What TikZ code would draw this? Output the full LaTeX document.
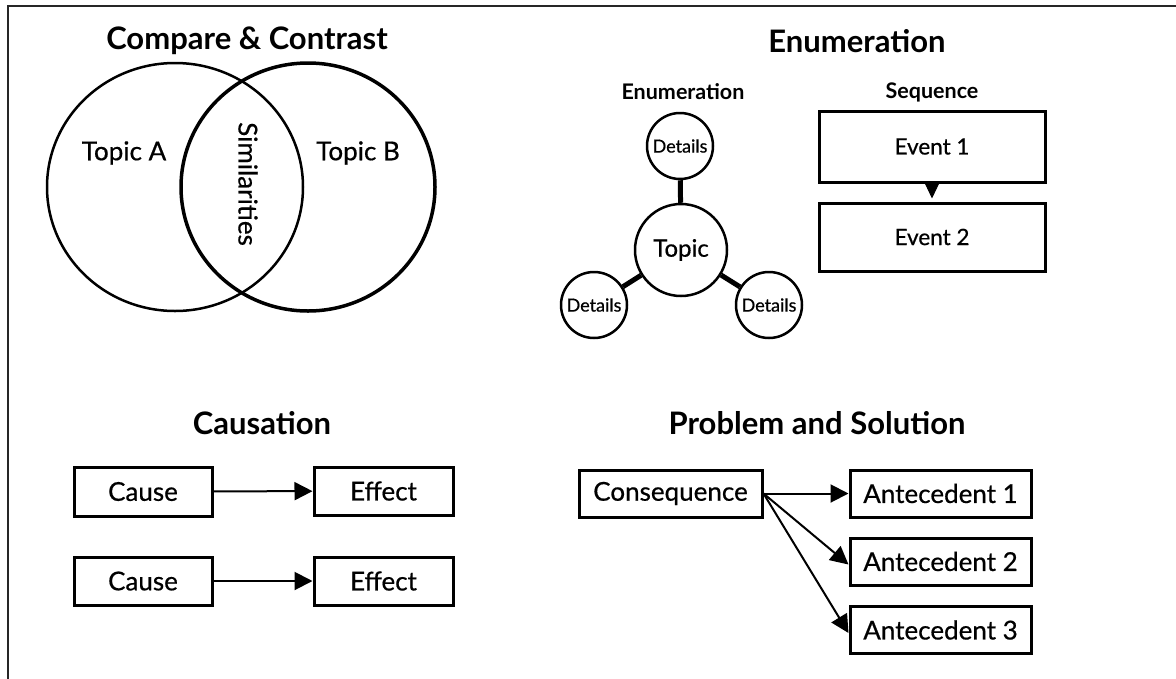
\documentclass[tikz,border=0pt]{standalone}
\usepackage{fontspec}
\setmainfont{Lato}
\newfontfamily\bodyf{Lato}[FakeBold=0.6]
\usetikzlibrary{arrows.meta,shapes.geometric}
\begin{document}
\begin{tikzpicture}[x=1pt,y=-1pt,
  title/.style={font=\fontsize{31}{36}\selectfont\bfseries},
  subtitle/.style={font=\fontsize{21.5}{25}\selectfont\bfseries},
  lbl/.style={font=\fontsize{26}{30}\selectfont\bodyf},
  box/.style={draw, line width=3pt, inner sep=0pt, font=\fontsize{26}{30}\selectfont\bodyf},
  detail/.style={draw, circle, line width=2.5pt, minimum size=66pt, inner sep=0pt, font=\fontsize{18}{21}\selectfont\bodyf},
  spoke/.style={line width=5pt},
  arr/.style={line width=2pt, -{Triangle[length=18pt,width=18pt]}},
]
\useasboundingbox (0,0) rectangle (1176,678);
\fill[white] (0,0) rectangle (1176,678);
% frame
\coordinate (fa) at (1180,6);
\coordinate (fb) at (8,6);
\coordinate (fc) at (8,682);
\draw[line width=2.5pt, black!85] (fa) -- (fb) -- (fc);

% Compare & Contrast
\node[title] (t1) at (247,41) {Compare \& Contrast};
\node[draw, ellipse, line width=2.5pt, minimum width=256pt, minimum height=248pt, inner sep=0pt] (vA) at (175,187) {};
\node[draw, ellipse, line width=3.5pt, minimum width=254pt, minimum height=248pt, inner sep=0pt] (vB) at (308,187) {};
\node[lbl] (ta) at (124,153) {Topic A};
\node[lbl] (tb) at (358,153) {Topic B};
\node[lbl, rotate=-90] (sim) at (248,184) {Similarities};

% Enumeration
\node[title] (t2) at (857,41) {Enumeration};
\node[subtitle] (t2a) at (683,92) {Enumeration};
\node[draw, circle, line width=2.5pt, minimum size=92pt, inner sep=0pt, font=\fontsize{24}{28}\selectfont\bodyf] (topic) at (681,250) {Topic};
\node[detail] (d1) at (680,146) {Details};
\node[detail] (d2) at (594,305) {Details};
\node[detail] (d3) at (769,305) {Details};
\draw[spoke] (topic) -- (d1);
\draw[spoke] (topic) -- (d2);
\draw[spoke] (topic) -- (d3);

\node[subtitle] (t2b) at (932,92) {Sequence};
\node[box, minimum width=226pt, minimum height=71pt, font=\fontsize{22.5}{26}\selectfont\bodyf] (e1) at (932,146.5) {Event 1};
\node[box, minimum width=226pt, minimum height=68pt, font=\fontsize{22.5}{26}\selectfont\bodyf] (e2) at (932,237) {Event 2};
\draw[line width=1pt, -{Triangle[length=16pt,width=15pt]}, shorten >=3pt] (e1) -- (e2);

% Causation
\node[title] (t3) at (262,423) {Causation};
\node[box, minimum width=138pt, minimum height=49pt] (c1) at (143,491.5) {Cause};
\node[box, minimum width=139pt, minimum height=48pt] (f1) at (383.5,491) {Effect};
\node[box, minimum width=138pt, minimum height=48pt] (c2) at (143,581) {Cause};
\node[box, minimum width=139pt, minimum height=48pt] (f2) at (383.5,581) {Effect};
\draw[arr] (c1) -- (f1);
\draw[arr] (c2) -- (f2);

% Problem and Solution
\node[title] (t4) at (817,423) {Problem and Solution};
\node[box, minimum width=183pt, minimum height=47pt] (cons) at (670.5,493.5) {Consequence};
\node[box, minimum width=181pt, minimum height=47pt] (a1) at (940.5,493.5) {Antecedent 1};
\node[box, minimum width=181pt, minimum height=47pt] (a2) at (940.5,561.5) {Antecedent 2};
\node[box, minimum width=181pt, minimum height=47pt] (a3) at (940.5,630) {Antecedent 3};
\draw[arr] (cons.east) -- (a1.west);
\draw[arr] (cons.east) -- ([yshift=-3pt]a2.west);
\draw[arr] (cons.east) -- ([yshift=-3pt]a3.west);
\end{tikzpicture}
\end{document}
